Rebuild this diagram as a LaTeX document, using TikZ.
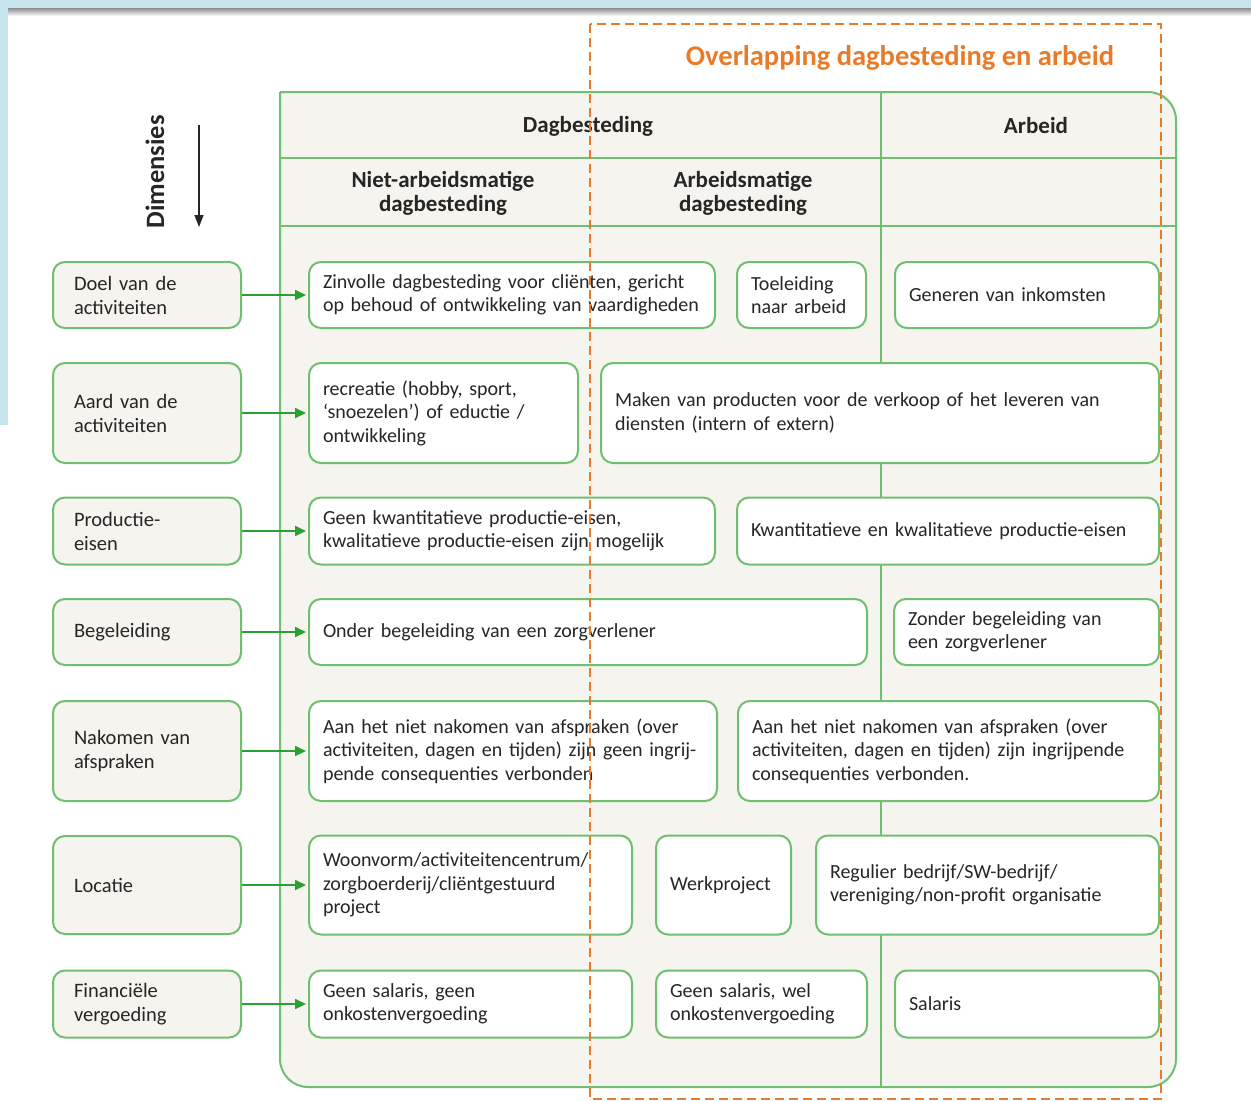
\documentclass[tikz,border=0pt]{standalone}
\usepackage{fontspec}
\setmainfont{Carlito}
\usetikzlibrary{arrows.meta}
\definecolor{boxgreen}{RGB}{112,190,112}
\definecolor{arrowgreen}{RGB}{40,160,50}
\definecolor{panelbg}{RGB}{246,244,239}
\definecolor{overlaporange}{RGB}{232,122,40}
\definecolor{chromeblue}{RGB}{198,228,238}
\tikzset{
  cell/.style = {draw=boxgreen, fill=white, line width=2, rounded corners=12, inner xsep=14, inner ysep=4,
    align=left, anchor=west, text=black!85, font=\fontsize{20}{23.5}\selectfont},
  dim/.style = {cell, fill=panelbg, inner xsep=21, text width=146, font=\fontsize{20.5}{24}\selectfont},
  hdr/.style = {font=\fontsize{23}{24}\selectfont\bfseries, align=center, text=black!85},
  feed/.style = {draw=arrowgreen, line width=2, shorten >=2, -{Triangle[length=11, width=10]}},
}

\begin{document}
\begin{tikzpicture}[x=1pt, y=-1pt]
  \useasboundingbox (0,0) rectangle (1251,1101);

  % screenshot edge
  \fill [chromeblue] (0,0) rectangle (1251,8);
  \fill [chromeblue] (0,0) rectangle (8,425);
  \shade [top color=black!45, bottom color=white] (8,8) rectangle (1251,16);

  % panel
  \draw [boxgreen, line width=2, fill=panelbg] (280,92) [rounded corners=28] -- (1176,92) -- (1176,1087) -- (280,1087) -- (280,92);
  \draw [boxgreen, line width=2] (280,158) -- (1176,158);
  \draw [boxgreen, line width=2] (280,226) -- (1176,226);
  \draw [boxgreen, line width=2] (881,92) -- (881,1087);

  \node [hdr] (dagb) at (588,126) {Dagbesteding};
  \node [hdr] (arbeid) at (1036,126) {Arbeid};
  \node [hdr] (nietarb) at (443,193) {Niet-arbeidsmatige\\dagbesteding};
  \node [hdr] (arbm) at (743,193) {Arbeidsmatige\\dagbesteding};

  % dimensions
  \node [hdr, rotate=90, font=\fontsize{26.5}{28}\selectfont\bfseries] (dimlabel) at (155,172) {Dimensies};
  \coordinate (dimtop) at (199,125);
  \coordinate (dimbot) at (199,227);
  \draw [black!85, line width=1.6, -{Triangle[length=12, width=9]}] (dimtop) -- (dimbot);

  \node [dim, minimum height=66] (doel) at (52,295) {Doel van de\\activiteiten};
  \node [dim, minimum height=100] (aard) at (52,413) {Aard van de\\activiteiten};
  \node [dim, minimum height=67] (prod) at (52,531) {Productie-\\eisen};
  \node [dim, minimum height=66] (begel) at (52,632) {Begeleiding};
  \node [dim, minimum height=100] (nakomen) at (52,751) {Nakomen van\\afspraken};
  \node [dim, minimum height=98] (locatie) at (52,885) {Locatie};
  \node [dim, minimum height=67] (financ) at (52,1004) {Financiële\\vergoeding};

  % row cells
  \node [cell, text width=378, minimum height=66] (zinvol) at (308,295) {Zinvolle dagbesteding voor cliënten, gericht\\op behoud of ontwikkeling van vaardigheden};
  \node [cell, text width=101, minimum height=66] (toeleid) at (736,295) {Toeleiding\\naar arbeid};
  \node [cell, text width=236, minimum height=66] (inkomst) at (894,295) {Generen van inkomsten};

  \node [cell, text width=241, minimum height=100] (recreatie) at (308,413) {recreatie (hobby, sport,\\‘snoezelen’) of eductie /\\ontwikkeling};
  \node [cell, text width=530, minimum height=100] (maken) at (600,413) {Maken van producten voor de verkoop of het leveren van\\diensten (intern of extern)};

  \node [cell, text width=378, minimum height=67] (geenkwant) at (308,531) {Geen kwantitatieve productie-eisen,\\kwalitatieve productie-eisen zijn mogelijk};
  \node [cell, text width=394, minimum height=67] (kwant) at (736,531) {Kwantitatieve en kwalitatieve productie-eisen};

  \node [cell, text width=530, minimum height=66] (onder) at (308,632) {Onder begeleiding van een zorgverlener};
  \node [cell, text width=237, minimum height=66] (zonder) at (893,632) {Zonder begeleiding van\\een zorgverlener};

  \node [cell, text width=380, minimum height=100] (geeningrij) at (308,751) {Aan het niet nakomen van afspraken (over\\activiteiten, dagen en tijden) zijn geen ingrij-\\pende consequenties verbonden};
  \node [cell, text width=393, minimum height=100] (ingrij) at (737,751) {Aan het niet nakomen van afspraken (over\\activiteiten, dagen en tijden) zijn ingrijpende\\consequenties verbonden.};

  \node [cell, text width=295, minimum height=99] (woonvorm) at (308,885) {Woonvorm/activiteitencentrum/\\zorgboerderij/cliëntgestuurd\\project};
  \node [cell, text width=107, minimum height=99] (werkproj) at (655,885) {Werkproject};
  \node [cell, text width=315, minimum height=99] (regulier) at (815,885) {Regulier bedrijf/SW-bedrijf/\\vereniging/non-profit organisatie};

  \node [cell, text width=295, minimum height=67] (geensal) at (308,1004) {Geen salaris, geen\\onkostenvergoeding};
  \node [cell, text width=183, minimum height=67] (welvergoed) at (655,1004) {Geen salaris, wel\\onkostenvergoeding};
  \node [cell, text width=236, minimum height=67] (salaris) at (894,1004) {Salaris};

  \draw [feed] (doel) -- (zinvol);
  \draw [feed] (aard) -- (recreatie);
  \draw [feed] (prod) -- (geenkwant);
  \draw [feed] (begel) -- (onder);
  \draw [feed] (nakomen) -- (geeningrij);
  \draw [feed] (locatie) -- (woonvorm);
  \draw [feed] (financ) -- (geensal);

  % overlap frame on top
  \draw [overlaporange, line width=2.5, dash pattern=on 9 off 5] (590,24) rectangle (1161,1099);
  \node [font=\fontsize{28.5}{30}\selectfont\bfseries, text=overlaporange] (overlap) at (900,58) {Overlapping dagbesteding en arbeid};
\end{tikzpicture}
\end{document}
